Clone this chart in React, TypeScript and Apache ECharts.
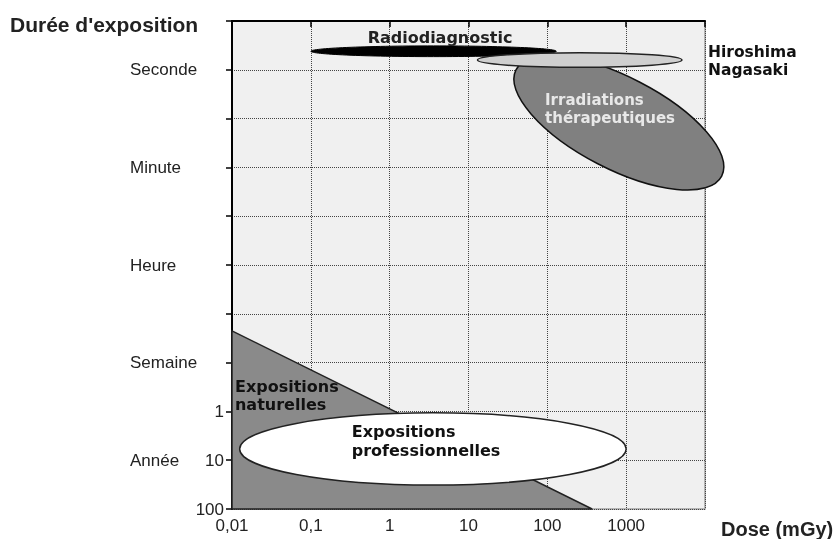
import React, { useEffect, useRef } from "react";
import * as echarts from "echarts";

// Axis tick labels
const xTickLabels = ["0,01", "0,1", "1", "10", "100", "1000", ""];
const yWordLabels = ["", "Seconde", "", "Minute", "", "Heure", "", "Semaine", "", "Année", ""];
const yNumberLabels = ["", "", "", "", "", "", "", "", "1", "10", "100"];

// Ellipses: [dose start, duration start, dose end, duration end, half-width (duration units)]
const ellipseNames = [
  "Expositions professionnelles",
  "Radiodiagnostic",
  "Irradiations thérapeutiques",
  "Hiroshima Nagasaki",
];
const ellipseValues = [
  [0.0125, 8.77, 1000, 8.77, 0.74],
  [0.1, 0.62, 130, 0.62, 0.11],
  [40, 1.0, 16300, 3.18, 0.94],
  [13, 0.8, 5100, 0.8, 0.15],
];

// Natural exposure area (dose, duration)
const naturalArea = [
  [0.01, 6.35],
  [370, 10],
  [0.01, 10],
];

// Annotation labels anchored in data coordinates (dose, duration)
const annotationTexts = [
  "Radiodiagnostic",
  "Hiroshima\nNagasaki",
  "Irradiations\nthérapeutiques",
  "Expositions\nnaturelles",
  "Expositions\nprofessionnelles",
];
const annotationPoints = [
  [4.35, 0.34],
  [10900, 0.82],
  [93.5, 1.8],
  [0.0109, 7.68],
  [0.33, 8.61],
];

const ellipseStyles = [
  { fill: "#ffffff", stroke: "#222222", lineWidth: 1.5 },
  { fill: "#000000", stroke: "#000000", lineWidth: 1 },
  { fill: "#808080", stroke: "#111111", lineWidth: 1.5 },
  { fill: "#cfcfcf", stroke: "#222222", lineWidth: 1.5 },
];

const annotationStyles = [
  { fill: "#222", fontSize: 16, lineHeight: 18, align: "center" },
  { fill: "#111", fontSize: 15.5, lineHeight: 18, align: "left" },
  { fill: "#e8e8e8", fontSize: 15, lineHeight: 18.5, align: "left" },
  { fill: "#111", fontSize: 16, lineHeight: 18, align: "left" },
  { fill: "#111", fontSize: 16, lineHeight: 19, align: "left" },
];

export default function App() {
  const ref = useRef<HTMLDivElement>(null);

  useEffect(() => {
    if (!ref.current) return;
    const chart = echarts.init(ref.current, undefined, { renderer: "svg" });
    const labelFont = "Liberation Sans";
    const option: any = {
      animation: false,
      textStyle: { fontFamily: labelFont },
      grid: {
        left: 232,
        right: 135,
        top: 21,
        bottom: 30,
        show: true,
        backgroundColor: "#f0f0f0",
        borderColor: "#a0a0a0",
        borderWidth: 1.5,
        containLabel: false,
        outerBoundsMode: "none",
      },
      xAxis: {
        type: "log",
        logBase: 10,
        min: 0.01,
        max: 10000,
        splitNumber: 6,
        axisLine: { show: true, lineStyle: { color: "#000", width: 2 } },
        axisTick: { show: true, length: 6, lineStyle: { color: "#000", width: 1.5 } },
        axisLabel: {
          margin: 8,
          fontFamily: labelFont,
          fontSize: 17,
          color: "#222",
          formatter: (v: number) => {
            const i = Math.round(Math.log10(v)) + 2;
            return xTickLabels[i] ?? "";
          },
        },
        splitLine: { show: true, lineStyle: { type: "dotted", color: "#444", width: 1 } },
        minorTick: { show: false },
      },
      yAxis: {
        type: "value",
        min: 0,
        max: 10,
        interval: 1,
        inverse: true,
        axisLine: { show: true, lineStyle: { color: "#000", width: 2 } },
        axisTick: { show: true, length: 6, lineStyle: { color: "#000", width: 1.5 } },
        axisLabel: {
          margin: 8,
          formatter: (v: number) => {
            const i = Math.round(v);
            const w = yWordLabels[i] || " ";
            const n = yNumberLabels[i] || " ";
            return `{w|${w}}{n|${n}}`;
          },
          rich: {
            w: { width: 71, align: "left", fontFamily: labelFont, fontSize: 17, color: "#222" },
            n: { width: 23, align: "right", fontFamily: labelFont, fontSize: 17, color: "#222" },
          },
        },
        splitLine: { show: true, lineStyle: { type: "dotted", color: "#444", width: 1 } },
      },
      graphic: [
        {
          type: "text",
          x: 10,
          y: 24,
          style: {
            text: "Durée d'exposition",
            fontFamily: labelFont,
            fontWeight: "bold",
            fontSize: 21,
            fill: "#222",
            verticalAlign: "middle",
          },
        },
        {
          type: "text",
          x: 721,
          y: 529,
          style: {
            text: "Dose (mGy)",
            fontFamily: labelFont,
            fontWeight: "bold",
            fontSize: 20,
            fill: "#222",
            verticalAlign: "middle",
          },
        },
      ],
      series: [
        {
          type: "custom",
          name: "Expositions naturelles",
          clip: false,
          data: naturalArea,
          renderItem: (params: any, api: any) => {
            if (params.dataIndex !== 0) return null;
            const pts = naturalArea.map((p) => api.coord(p));
            return {
              type: "polygon",
              shape: { points: pts },
              style: { fill: "#8a8a8a", stroke: "#222", lineWidth: 1.5 },
            };
          },
        },
        {
          type: "custom",
          name: "Zones",
          clip: false,
          data: ellipseValues.map((v, i) => ({ name: ellipseNames[i], value: v })),
          encode: { x: [0, 2], y: [1, 3] },
          renderItem: (params: any, api: any) => {
            const x0 = api.value(0);
            const y0 = api.value(1);
            const x1 = api.value(2);
            const y1 = api.value(3);
            const w = api.value(4);
            const p0 = api.coord([x0, y0]);
            const p1 = api.coord([x1, y1]);
            const pw = api.coord([x0, y0 + w]);
            const dx = p1[0] - p0[0];
            const dy = p1[1] - p0[1];
            const rx = Math.hypot(dx, dy) / 2;
            const ry = Math.abs(pw[1] - p0[1]);
            const s = ellipseStyles[params.dataIndex];
            return {
              type: "ellipse",
              x: (p0[0] + p1[0]) / 2,
              y: (p0[1] + p1[1]) / 2,
              rotation: -Math.atan2(dy, dx),
              shape: { cx: 0, cy: 0, rx, ry },
              style: { fill: s.fill, stroke: s.stroke, lineWidth: s.lineWidth },
            };
          },
        },
        {
          type: "custom",
          name: "Labels",
          clip: false,
          data: annotationPoints,
          renderItem: (params: any, api: any) => {
            const p = api.coord([api.value(0), api.value(1)]);
            const s = annotationStyles[params.dataIndex];
            return {
              type: "text",
              x: p[0],
              y: p[1],
              style: {
                text: annotationTexts[params.dataIndex],
                fontFamily: "DejaVu Sans",
                fontWeight: "bold",
                fontSize: s.fontSize,
                lineHeight: s.lineHeight,
                fill: s.fill,
                align: s.align,
                verticalAlign: "middle",
              },
            };
          },
        },
      ],
    };
    chart.setOption(option);
    return () => chart.dispose();
  }, []);

  return (
    <div
      ref={ref}
      style={{ position: "fixed", left: 0, top: 0, width: 840, height: 539 }}
    />
  );
}
